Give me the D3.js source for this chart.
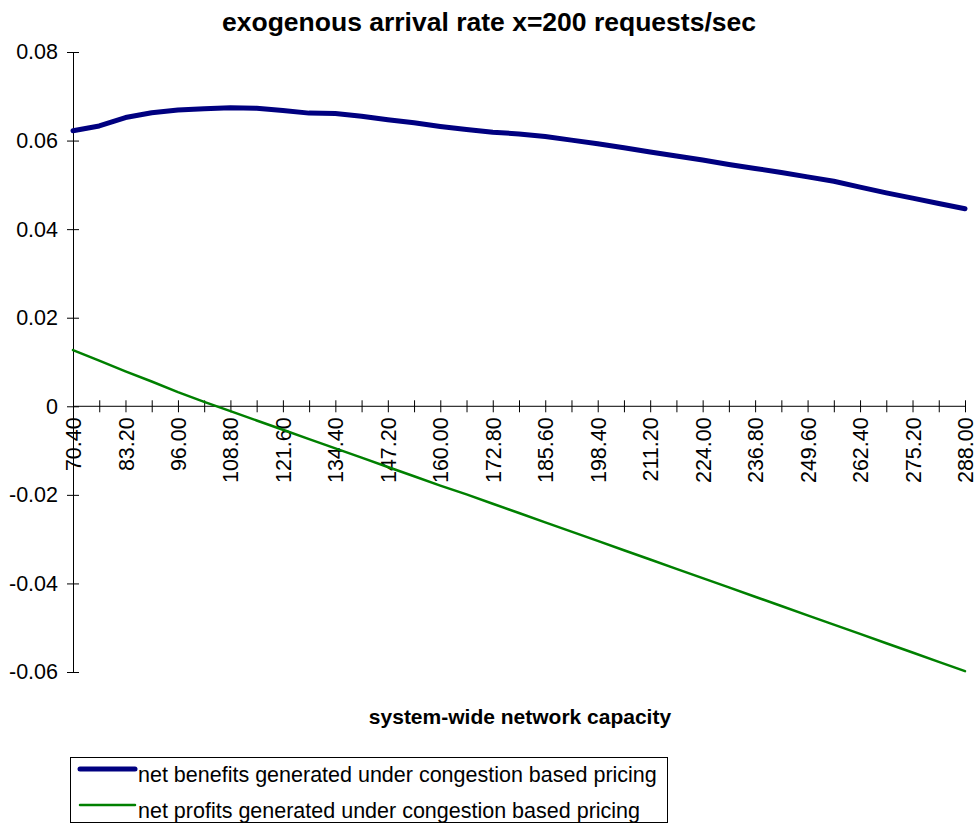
<!DOCTYPE html>
<html>
<head>
<meta charset="utf-8">
<script src="https://cdn.jsdelivr.net/npm/d3@7"></script>
<style>
  body { margin: 0; background: #fff; }
  svg { font-family: "Liberation Sans", Arial, sans-serif; }
</style>
</head>
<body>
<svg id="chart" width="977" height="824"></svg>
<script>
const categories = ["70.40","76.80","83.20","89.60","96.00","102.40","108.80","115.20","121.60","128.00","134.40","140.80","147.20","153.60","160.00","166.40","172.80","179.20","185.60","192.00","198.40","204.80","211.20","217.60","224.00","230.40","236.80","243.20","249.60","256.00","262.40","268.80","275.20","281.60","288.00"];
const netBenefits = [0.0622,0.0633,0.0652,0.0663,0.0669,0.0672,0.0674,0.0673,0.0668,0.0662,0.0661,0.0655,0.0647,0.0640,0.0632,0.0625,0.0619,0.0615,0.0609,0.0601,0.0593,0.0584,0.0574,0.0565,0.0556,0.0546,0.0537,0.0528,0.0518,0.0508,0.0495,0.0482,0.0470,0.0458,0.0446];
const netProfits = [0.0127,0.0103,0.0079,0.0056,0.0032,0.0010,-0.0011,-0.0032,-0.0053,-0.0074,-0.0095,-0.0116,-0.0137,-0.0158,-0.0179,-0.0199,-0.0220,-0.0241,-0.0262,-0.0283,-0.0304,-0.0325,-0.0346,-0.0367,-0.0388,-0.0409,-0.0430,-0.0451,-0.0472,-0.0493,-0.0514,-0.0535,-0.0556,-0.0577,-0.0598];
const yTicks = [0.08,0.06,0.04,0.02,0,-0.02,-0.04,-0.06];
const xLabels = categories.filter((d,i) => i % 2 === 0);
const seriesNames = ["net benefits generated under congestion based pricing","net profits generated under congestion based pricing"];
const seriesColors = ["#000080","#008000"];
const seriesWidths = [5, 2.5];

const svg = d3.select("#chart");
const x = d3.scalePoint().domain(categories).range([73, 965]);
const y = d3.scaleLinear().domain([-0.06, 0.08]).range([672, 52]);

// title
svg.append("text").attr("x", 489).attr("y", 31).attr("text-anchor", "middle")
  .attr("font-size", 26.5).attr("font-weight", "bold").text("exogenous arrival rate x=200 requests/sec");

// y axis
const yAxis = svg.append("g").attr("transform", "translate(73,0)")
  .call(d3.axisLeft(y).tickValues(yTicks).tickSize(6)
    .tickFormat(d => d === 0 ? "0" : d3.format(".2f")(d).replace("−","-")));
yAxis.select(".domain").attr("stroke", "#000");
yAxis.selectAll(".tick line").attr("x1", -6).attr("x2", 6).attr("stroke", "#000");
yAxis.selectAll(".tick text").attr("font-size", 21.5).attr("fill", "#000")
  .attr("font-family", "Liberation Sans, Arial, sans-serif").attr("x", -15);

// x axis at y=0
const xAxis = svg.append("g").attr("transform", `translate(0,${y(0)})`)
  .call(d3.axisBottom(x).tickSize(6).tickFormat(d => xLabels.includes(d) ? d : ""));
xAxis.select(".domain").attr("d", `M${x(categories[0])},0H${x(categories[categories.length-1])}`).attr("stroke", "#000");
xAxis.selectAll(".tick line").attr("y1", -6).attr("y2", 6).attr("stroke", "#000");
xAxis.selectAll(".tick text")
  .attr("font-size", 21.5).attr("fill", "#000")
  .attr("font-family", "Liberation Sans, Arial, sans-serif")
  .attr("transform", "rotate(-90)")
  .attr("text-anchor", "end").attr("x", -11).attr("y", 0).attr("dy", "0.35em");

// x axis title
svg.append("text").attr("x", 520).attr("y", 724).attr("text-anchor", "middle")
  .attr("font-size", 21).attr("font-weight", "bold").text("system-wide network capacity");

// lines
const line = d3.line().x((d, i) => x(categories[i])).y(d => y(d));
[netBenefits, netProfits].forEach((s, k) => {
  svg.append("path").datum(s).attr("d", line).attr("fill", "none")
    .attr("stroke", seriesColors[k]).attr("stroke-width", seriesWidths[k])
    .attr("stroke-linejoin", "round").attr("stroke-linecap", "round");
});

// legend
const lg = svg.append("g");
lg.append("rect").attr("x", 70.5).attr("y", 757.5).attr("width", 597).attr("height", 65)
  .attr("fill", "#fff").attr("stroke", "#000").attr("stroke-width", 1);
seriesNames.forEach((name, k) => {
  const ly = 769 + k * 36;
  lg.append("line").attr("x1", 80).attr("x2", 135).attr("y1", ly).attr("y2", ly)
    .attr("stroke", seriesColors[k]).attr("stroke-width", seriesWidths[k])
    .attr("stroke-linecap", "round");
  lg.append("text").attr("x", 138).attr("y", ly + 13).attr("font-size", 21.5).text(name);
});
</script>
</body>
</html>
